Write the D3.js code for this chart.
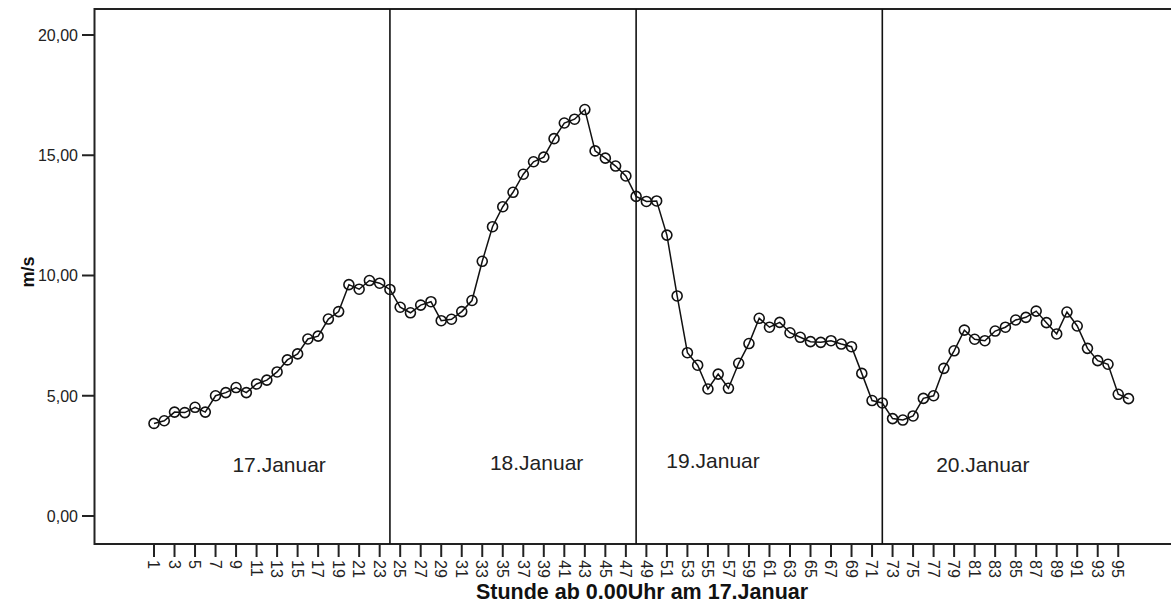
<!DOCTYPE html>
<html>
<head>
<meta charset="utf-8">
<script src="https://cdn.jsdelivr.net/npm/d3@7"></script>
<style>
  html, body { margin: 0; padding: 0; background: #fff; }
  svg { display: block; font-family: "Liberation Sans", Arial, sans-serif; }
</style>
</head>
<body>
<svg id="chart" width="1171" height="603"></svg>
<script>
// Hourly wind speed (m/s), counted from 0:00 on 17 January
const hours = d3.range(1, 97);
const windSpeed = [
  3.85, 3.96, 4.32, 4.30, 4.52, 4.32, 5.00, 5.13, 5.34, 5.13, 5.49, 5.65,
  5.99, 6.49, 6.74, 7.36, 7.48, 8.19, 8.50, 9.62, 9.43, 9.79, 9.68, 9.42,
  8.68, 8.45, 8.77, 8.91, 8.12, 8.18, 8.50, 8.96, 10.59, 12.03, 12.86, 13.46,
  14.21, 14.73, 14.92, 15.69, 16.34, 16.50, 16.90, 15.18, 14.88, 14.55, 14.14, 13.29,
  13.08, 13.10, 11.68, 9.15, 6.79, 6.27, 5.28, 5.90, 5.31, 6.35, 7.17, 8.22,
  7.85, 8.05, 7.62, 7.43, 7.25, 7.22, 7.29, 7.15, 7.04, 5.93, 4.80, 4.70,
  4.05, 3.99, 4.16, 4.89, 5.00, 6.14, 6.87, 7.73, 7.35, 7.29, 7.69, 7.85,
  8.15, 8.26, 8.52, 8.04, 7.57, 8.48, 7.90, 6.97, 6.46, 6.31, 5.06, 4.88
];
const yTicks = [0, 5, 10, 15, 20];
const xTickHours = hours.filter(h => h % 2 === 1);
const dayBreaks = [24, 48, 72];
const dayLabels = ["17.Januar", "18.Januar", "19.Januar", "20.Januar"];
const dayLabelHours = [13.2, 38.3, 55.5, 81.8];
const dayLabelValues = [1.85, 1.92, 2.0, 1.85];

const svg = d3.select("#chart");

const x = d3.scaleLinear().domain([1, 96]).range([154, 1128.5]);
const y = d3.scaleLinear().domain([0, 20]).range([516, 35]);

const frameLeft = 94.5, frameTop = 9, frameBottom = 544, frameRight = 1200;

// Plot frame (open on the right, running off the page)
svg.append("path")
  .attr("d", `M${frameRight},${frameTop}H${frameLeft}V${frameBottom}H${frameRight}`)
  .attr("fill", "none")
  .attr("stroke", "#222")
  .attr("stroke-width", 2);

// Y axis ticks and labels
const yAxis = svg.append("g");
yAxis.selectAll("line").data(yTicks).join("line")
  .attr("x1", 82).attr("x2", frameLeft)
  .attr("y1", d => y(d)).attr("y2", d => y(d))
  .attr("stroke", "#222").attr("stroke-width", 2);
yAxis.selectAll("text").data(yTicks).join("text")
  .attr("x", 78).attr("y", d => y(d))
  .attr("dy", "0.36em")
  .attr("text-anchor", "end")
  .attr("font-size", 16)
  .attr("fill", "#222")
  .text(d => d3.format(".2f")(d).replace(".", ","));

// X axis ticks and rotated labels
const xAxis = svg.append("g");
xAxis.selectAll("line").data(xTickHours).join("line")
  .attr("x1", d => x(d)).attr("x2", d => x(d))
  .attr("y1", frameBottom).attr("y2", 557)
  .attr("stroke", "#222").attr("stroke-width", 2);
xAxis.selectAll("text").data(xTickHours).join("text")
  .attr("transform", d => `translate(${x(d)},560) rotate(90)`)
  .attr("dy", "0.36em")
  .attr("text-anchor", "start")
  .attr("font-size", 16)
  .attr("fill", "#222")
  .text(d => d);

// Axis titles
svg.append("text")
  .attr("x", 642).attr("y", 599)
  .attr("text-anchor", "middle")
  .attr("font-size", 21.5)
  .attr("font-weight", "bold")
  .attr("fill", "#111")
  .text("Stunde ab 0.00Uhr am 17.Januar");
svg.append("text")
  .attr("transform", "translate(34,272) rotate(-90)")
  .attr("text-anchor", "middle")
  .attr("font-size", 18)
  .attr("font-weight", "bold")
  .attr("fill", "#111")
  .text("m/s");

// Day boundaries
svg.append("g").selectAll("line").data(dayBreaks).join("line")
  .attr("x1", d => x(d)).attr("x2", d => x(d))
  .attr("y1", frameTop).attr("y2", frameBottom)
  .attr("stroke", "#111").attr("stroke-width", 1.6);

// Day labels
svg.append("g").selectAll("text").data(dayLabels).join("text")
  .attr("x", (d, i) => x(dayLabelHours[i]))
  .attr("y", (d, i) => y(dayLabelValues[i]))
  .attr("text-anchor", "middle")
  .attr("font-size", 21)
  .attr("fill", "#222")
  .text(d => d);

// Wind speed line with open circle markers
const series = hours.map((h, i) => ({ h, v: windSpeed[i] }));
svg.append("path")
  .datum(series)
  .attr("fill", "none")
  .attr("stroke", "#111")
  .attr("stroke-width", 1.5)
  .attr("d", d3.line().x(d => x(d.h)).y(d => y(d.v)));
svg.append("g").selectAll("circle").data(series).join("circle")
  .attr("cx", d => x(d.h))
  .attr("cy", d => y(d.v))
  .attr("r", 5)
  .attr("fill", "none")
  .attr("stroke", "#111")
  .attr("stroke-width", 1.6);
</script>
</body>
</html>
